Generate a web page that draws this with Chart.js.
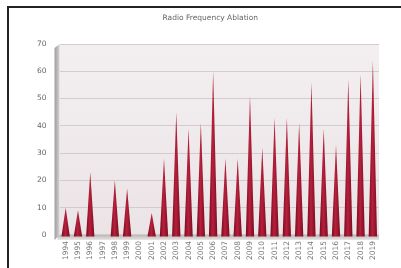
<!DOCTYPE html>
<html>
<head>
<meta charset="utf-8">
<script src="https://cdn.jsdelivr.net/npm/chart.js"></script>
<style>
  html, body { margin: 0; padding: 0; background: #fff; }
  #wrap { position: relative; width: 401px; height: 268px; overflow: hidden; }
  #frame { position: absolute; left: 7px; top: 6px; right: -4px; bottom: -4px;
           border-top: 2px solid #222; border-left: 2px solid #222; }
  canvas { position: absolute; left: 0; top: 0; }
</style>
</head>
<body>
<div id="wrap">
  <div id="frame"></div>
  <canvas id="rfaChart" width="401" height="268"></canvas>
</div>
<script>
// Radio Frequency Ablation - publications per year
const years = ['1994', '1995', '1996', '1997', '1998', '1999', '2000', '2001', '2002', '2003',
  '2004', '2005', '2006', '2007', '2008', '2009', '2010', '2011', '2012', '2013',
  '2014', '2015', '2016', '2017', '2018', '2019'];
const counts = [10, 9, 23, 0, 20, 17, 0, 8, 28, 45,
  39, 41, 60, 28, 28, 51, 32, 43, 43, 41,
  56, 39, 33, 57, 59, 64];
const yTicks = [0, 10, 20, 30, 40, 50, 60, 70];
const chartTitle = 'Radio Frequency Ablation';

// plot background, left wall and floor (fake 3D look)
const plotBackground = {
  id: 'plotBackground',
  beforeDraw(chart) {
    const { ctx, chartArea: a } = chart;
    ctx.save();
    const bg = ctx.createLinearGradient(0, a.top, 0, a.bottom);
    bg.addColorStop(0, '#f3eff0');
    bg.addColorStop(1, '#ebe4e6');
    ctx.fillStyle = bg;
    ctx.fillRect(a.left, a.top, a.right - a.left, a.bottom - a.top);
    // title, a bit left of the plot centre like the original
    ctx.fillStyle = '#666';
    ctx.font = '7.5px "DejaVu Sans"';
    ctx.textAlign = 'center';
    ctx.textBaseline = 'middle';
    ctx.fillText(chartTitle, (a.left + a.right) / 2 - 9, 18);
    ctx.restore();
  },
  beforeDatasetsDraw(chart) {
    const { ctx, chartArea: a } = chart;
    ctx.save();
    // floor
    const fg = ctx.createLinearGradient(0, a.bottom, 0, a.bottom + 5);
    fg.addColorStop(0, '#bdb7b8');
    fg.addColorStop(1, '#e6e3e3');
    ctx.fillStyle = fg;
    ctx.fillRect(a.left - 2, a.bottom, a.right - a.left + 2, 5);
    // left wall
    const wg = ctx.createLinearGradient(a.left - 5, 0, a.left, 0);
    wg.addColorStop(0, '#9c9a9a');
    wg.addColorStop(1, '#d6d3d3');
    ctx.fillStyle = wg;
    ctx.beginPath();
    ctx.moveTo(a.left - 5, a.top + 4);
    ctx.lineTo(a.left, a.top);
    ctx.lineTo(a.left, a.bottom);
    ctx.lineTo(a.left - 5, a.bottom + 5);
    ctx.closePath();
    ctx.fill();
    ctx.restore();
  }
};

// draw every bar as a cone / spike using the bar element geometry
const spikes = {
  id: 'spikes',
  afterDatasetsDraw(chart) {
    const { ctx } = chart;
    const meta = chart.getDatasetMeta(0);
    ctx.save();
    meta.data.forEach((bar) => {
      const { x, y, base, width } = bar.getProps(['x', 'y', 'base', 'width'], true);
      if (base - y < 0.5) return;
      const g = ctx.createLinearGradient(x - width / 2, 0, x + width / 2, 0);
      g.addColorStop(0, '#760a1f');
      g.addColorStop(0.45, '#b8203c');
      g.addColorStop(1, '#7a0b21');
      ctx.fillStyle = g;
      ctx.beginPath();
      ctx.moveTo(x - width / 2, base + 2);
      ctx.lineTo(x, y);
      ctx.lineTo(x + width / 2, base + 2);
      ctx.closePath();
      ctx.fill();
    });
    ctx.restore();
  }
};

new Chart(document.getElementById('rfaChart'), {
  type: 'bar',
  data: {
    labels: years,
    datasets: [{
      label: chartTitle,
      data: counts,
      backgroundColor: 'transparent',
      borderWidth: 0,
      barPercentage: 0.68,
      categoryPercentage: 1
    }]
  },
  options: {
    responsive: false,
    animation: false,
    layout: { padding: { left: 24, right: 22, top: 44, bottom: 2 } },
    plugins: {
      legend: { display: false },
      tooltip: { enabled: false },
      title: { display: false }
    },
    scales: {
      x: {
        offset: true,
        grid: { display: false, drawTicks: false },
        border: { display: false },
        ticks: {
          color: '#777',
          font: { family: 'DejaVu Sans', size: 7.5 },
          minRotation: 90,
          maxRotation: 90,
          autoSkip: false,
          padding: 6
        }
      },
      y: {
        min: 0,
        max: 70,
        afterBuildTicks: (axis) => { axis.ticks = yTicks.map(v => ({ value: v })); },
        grid: { color: '#d3cbcd', lineWidth: 1, drawTicks: false },
        border: { display: false },
        ticks: {
          color: '#666',
          font: { family: 'DejaVu Sans', size: 7.5 },
          padding: 13
        }
      }
    }
  },
  plugins: [plotBackground, spikes]
});
</script>
</body>
</html>
